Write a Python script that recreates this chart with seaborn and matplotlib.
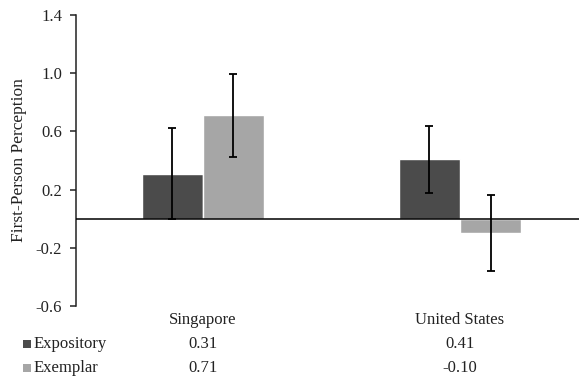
import pandas as pd
import numpy as np
import matplotlib
matplotlib.use("Agg")
import matplotlib.pyplot as plt
import seaborn as sns
from matplotlib.patches import Rectangle

# data
countries = ["Singapore", "United States"]
conditions = ["Expository", "Exemplar"]
expository = [0.31, 0.41]
exemplar = [0.71, -0.10]
expository_err = [0.31, 0.23]
exemplar_err = [0.285, 0.26]
yticks = [-0.6, -0.2, 0.2, 0.6, 1.0, 1.4]

colors = {"Expository": "#4b4b4b", "Exemplar": "#a6a6a6"}
text_color = "#222222"

df = pd.DataFrame({
    "country": countries * 2,
    "condition": ["Expository"] * 2 + ["Exemplar"] * 2,
    "value": expository + exemplar,
})
errs = {"Expository": expository_err, "Exemplar": exemplar_err}

sns.set_style("white")
plt.rcParams["font.family"] = ["Liberation Serif", "DejaVu Serif"]

fig = plt.figure(figsize=(5.79, 3.79), dpi=100)
ax = fig.add_axes([76 / 579, 1 - 306 / 379, 503 / 579, 291 / 379])

sns.barplot(data=df, x="country", y="value", hue="condition",
            hue_order=conditions, order=countries, palette=colors,
            width=0.475, gap=0, errorbar=None, legend=False,
            saturation=1, ax=ax)

# error bars at the bar centres
for cont, cond in zip(ax.containers, conditions):
    xs = [p.get_x() + p.get_width() / 2 for p in cont]
    ys = [p.get_y() + p.get_height() for p in cont]
    ax.errorbar(xs, ys, yerr=errs[cond], fmt="none", ecolor="black",
                elinewidth=1.3, capsize=3, capthick=1.3, zorder=5)

ax.axhline(0, color="black", lw=1.1, zorder=4)

ax.set_ylim(-0.6, 1.4)
ax.set_xlim(-0.494, 1.463)
ax.set_yticks(yticks)
ax.set_yticklabels([f"{t:.1f}" for t in yticks], fontsize=12, color=text_color)
ax.set_xticks([])
ax.set_xlabel("")
ax.set_ylabel("First-Person Perception", fontsize=12.5, color=text_color)
ax.yaxis.set_label_coords(-0.098, 0.5)

for s in ["top", "right", "bottom"]:
    ax.spines[s].set_visible(False)
ax.spines["left"].set_color("#222222")
ax.spines["left"].set_linewidth(1.1)
ax.tick_params(axis="y", left=True, direction="out", length=4, width=1.1,
               color="#222222", pad=6)

# data table under the chart
trans = ax.get_xaxis_transform()
for i, c in enumerate(countries):
    ax.text(i, -0.048, c, transform=trans, ha="center", va="center",
            fontsize=12, color=text_color, clip_on=False)
    ax.text(i, -0.131, f"{expository[i]:.2f}", transform=trans, ha="center",
            va="center", fontsize=12, color=text_color, clip_on=False)
    ax.text(i, -0.213, f"{exemplar[i]:.2f}", transform=trans, ha="center",
            va="center", fontsize=12, color=text_color, clip_on=False)

for cond, ypix in zip(conditions, [344, 368]):
    fig.patches.append(Rectangle((23 / 579, 1 - (ypix + 4) / 379), 8 / 579, 8 / 379,
                                 transform=fig.transFigure, facecolor=colors[cond],
                                 edgecolor="none"))
    fig.text(34 / 579, 1 - ypix / 379, cond, ha="left", va="center",
             fontsize=12, color=text_color)

fig.savefig("out.png", dpi=100)
